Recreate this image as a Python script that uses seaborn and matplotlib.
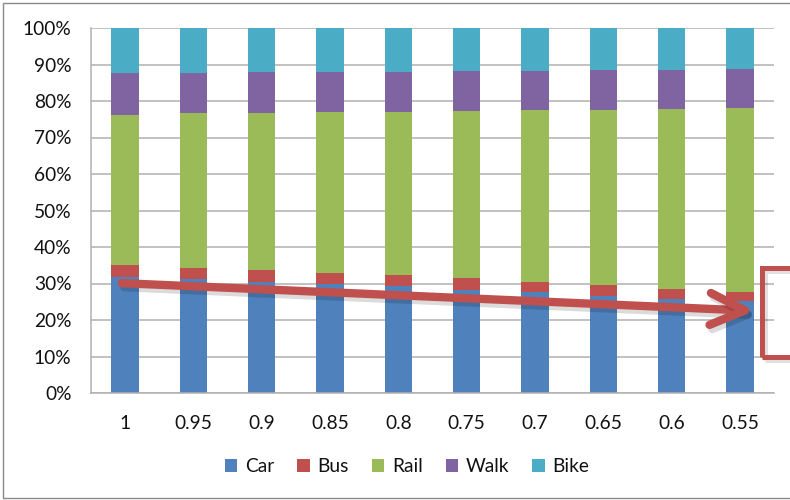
import matplotlib
matplotlib.use("Agg")
import matplotlib.pyplot as plt
import matplotlib.patheffects as pe
from matplotlib.patches import Patch, Rectangle
from matplotlib.ticker import FixedLocator, PercentFormatter
import numpy as np
import pandas as pd
import seaborn as sns

# Mode share (%) for each scenario factor
factors = ["1", "0.95", "0.9", "0.85", "0.8", "0.75", "0.7", "0.65", "0.6", "0.55"]
car  = [31.9, 31.3, 30.5, 30.0, 29.2, 28.3, 27.7, 26.7, 25.8, 25.1]
bus  = [3.2, 2.9, 3.3, 2.9, 3.0, 3.1, 2.8, 3.0, 2.8, 2.6]
rail = [41.2, 42.4, 42.8, 44.1, 44.8, 45.9, 47.0, 47.9, 49.2, 50.5]
walk = [11.4, 11.1, 11.3, 10.9, 10.9, 10.9, 10.7, 11.0, 10.8, 10.7]
bike = [12.3, 12.3, 12.1, 12.1, 12.1, 11.8, 11.8, 11.4, 11.4, 11.1]

modes = ["Car", "Bus", "Rail", "Walk", "Bike"]
colors = ["#4f81bd", "#c0504d", "#9bbb59", "#8064a2", "#4bacc6"]
series = [car, bus, rail, walk, bike]

df = pd.DataFrame({"factor": factors})
for m, vals in zip(modes, series):
    df[m] = vals
cum = df[modes].cumsum(axis=1)

sns.set_theme(style="white")
plt.rcParams["font.family"] = ["Lato", "DejaVu Sans"]
FS = 13.8

fig = plt.figure(figsize=(7.9, 5.0), dpi=100)
ax = fig.add_axes([91 / 790, 1 - 393 / 500, 683 / 790, 365 / 500])

# Stacked bars: draw cumulative totals from the top series down
for m, c in reversed(list(zip(modes, colors))):
    plot_df = pd.DataFrame({"factor": factors, "value": cum[m].values})
    sns.barplot(data=plot_df, x="factor", y="value", order=factors,
                color=c, saturation=1, width=0.4, ax=ax,
                edgecolor="none", linewidth=0, zorder=2)

ax.set_xlim(-0.5, len(factors) - 0.5)
ax.set_ylim(0, 100)
ax.set_xlabel("")
ax.set_ylabel("")

grid_c = "#b0b0b0"
ax.yaxis.set_major_locator(FixedLocator(np.arange(0, 101, 10)))
ax.yaxis.set_major_formatter(PercentFormatter(decimals=0))
ax.grid(axis="y", color=grid_c, linewidth=1.1, zorder=0)
ax.grid(axis="x", visible=False)
ax.set_axisbelow(True)

for s in ["top", "right"]:
    ax.spines[s].set_visible(False)
for s in ["left", "bottom"]:
    ax.spines[s].set_color(grid_c)
    ax.spines[s].set_linewidth(1.1)

ax.tick_params(axis="y", which="major", direction="out", length=6,
               width=1, color=grid_c, pad=8, labelsize=FS, labelcolor="#111111")
ax.xaxis.set_minor_locator(FixedLocator(np.arange(-0.5, len(factors), 1.0)))
ax.tick_params(axis="x", which="major", length=0, pad=16,
               labelsize=FS, labelcolor="#111111")
ax.tick_params(axis="x", which="minor", direction="out", length=5,
               width=1, color=grid_c)

# Trend arrow along the car share
shadow = [pe.SimpleLineShadow(offset=(2, -3), shadow_color="#000000", alpha=0.14),
          pe.Normal()]
ax.annotate("", xy=(9.22, 22.5), xytext=(-0.05, 30.1),
            arrowprops=dict(arrowstyle="->,head_length=25,head_width=11.5",
                            mutation_scale=1, lw=6, color="#c0504d",
                            shrinkA=0, shrinkB=0, capstyle="round",
                            joinstyle="round", path_effects=shadow),
            zorder=5)

# Callout box at the right edge
box = Rectangle((762 / 790, 1 - 357 / 500), 0.08, 89 / 500,
                transform=fig.transFigure, fill=False, edgecolor="#c0504d",
                linewidth=3.6, zorder=6,
                path_effects=[pe.SimpleLineShadow(offset=(2, -2), shadow_color="#000000",
                                                  alpha=0.12), pe.Normal()])
fig.add_artist(box)

# Chart frame
frame = Rectangle((3 / 790, 2 / 500), 1.0, 1 - 5 / 500, transform=fig.transFigure,
                  fill=False, edgecolor="#8a8a8a", linewidth=1.0)
fig.add_artist(frame)

handles = [Patch(facecolor=c, edgecolor="none", label=m) for m, c in zip(modes, colors)]
fig.legend(handles=handles, loc="center", bbox_to_anchor=(407 / 790, 1 - 467 / 500),
           ncol=5, frameon=False, fontsize=FS, handlelength=0.65, handleheight=0.65,
           handletextpad=0.4, columnspacing=1.2, labelcolor="#111111")

fig.savefig("out.png", dpi=100)
